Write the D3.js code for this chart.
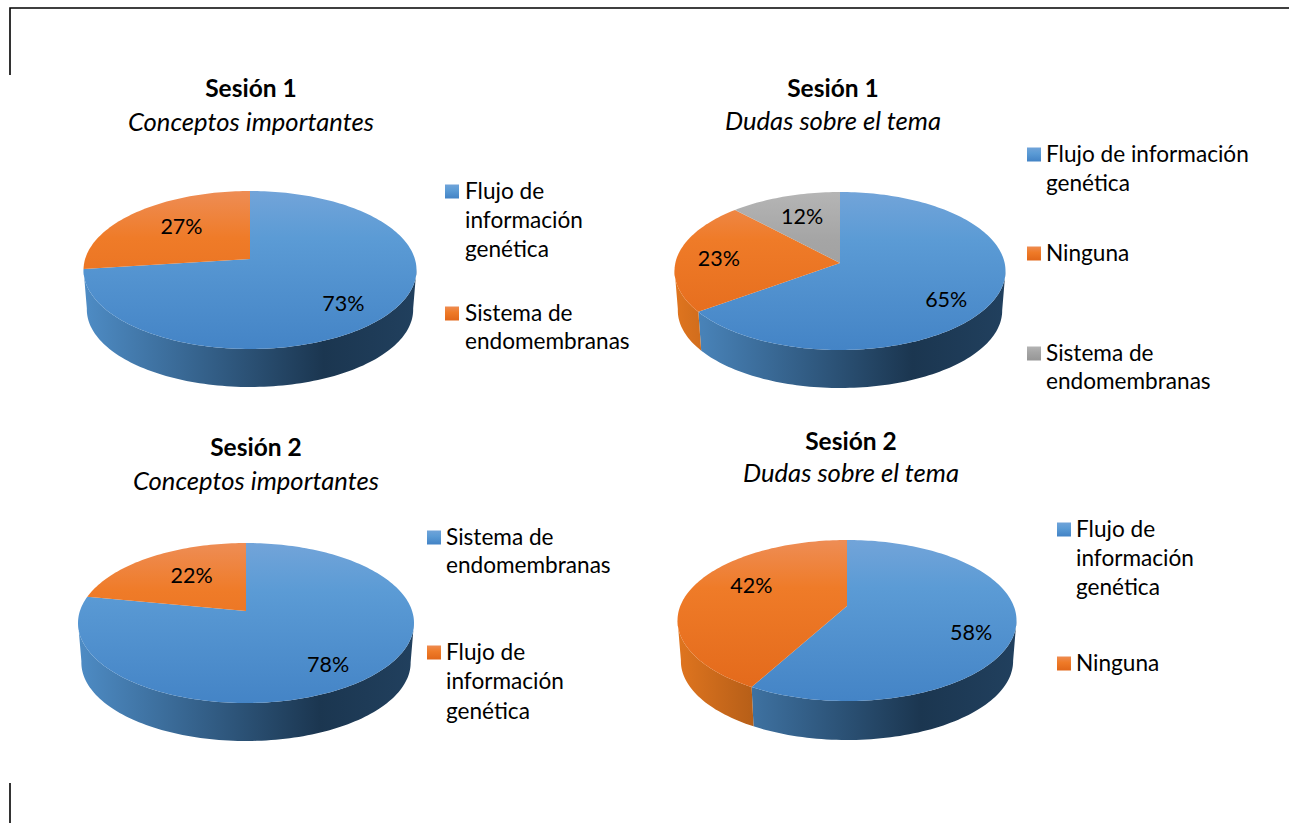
<!DOCTYPE html>
<html>
<head>
<meta charset="utf-8">
<script src="https://cdn.jsdelivr.net/npm/d3@7/dist/d3.min.js"></script>
<style>
html,body{margin:0;padding:0;background:#fff;overflow:hidden}
text{font-family:Lato,"Open Sans",sans-serif;fill:#000}
</style>
</head>
<body>
<svg id="c" width="1289" height="823"></svg>
<script>
// ---- data ----
const session1ConceptsLabels = ["Flujo de información genética", "Sistema de endomembranas"];
const session1ConceptsValues = [73, 27];
const session1DoubtsLabels = ["Flujo de información genética", "Ninguna", "Sistema de endomembranas"];
const session1DoubtsValues = [65, 23, 12];
const session2ConceptsLabels = ["Sistema de endomembranas", "Flujo de información genética"];
const session2ConceptsValues = [78, 22];
const session2DoubtsLabels = ["Flujo de información genética", "Ninguna"];
const session2DoubtsValues = [58, 42];
const titles = ["Sesión 1", "Sesión 1", "Sesión 2", "Sesión 2"];
const subtitles = ["Conceptos importantes", "Dudas sobre el tema", "Conceptos importantes", "Dudas sobre el tema"];

// ---- palette ----
const faceStops = [
  ["#72a4d9", "#5b9bd5", "#4484c6"],
  ["#ee8d55", "#ef7b28", "#e2681a"],
  ["#b5b5b5", "#a5a5a5", "#979797"]
];
const wallStops = [
  ["#4e8cc5", "#1b3650", "#21405e"],
  ["#e0751f", "#5a2d08", "#4a2507"],
  ["#8a8a8a", "#555555", "#444444"]
];

// ---- layout (geometry of each 3D pie, legend and title, not data) ----
const layouts = [
  { cx:250, apex:259, left:84, right:417, top:191, bottom:349, base:387,
    tx:251, ty:[88,122],
    labelNudge:[[-2,5],[15,2]],
    legendSquareX:445, legendTextX:465,
    legendLines:[["Flujo de","información","genética"],["Sistema de","endomembranas"]],
    legendY:[[191,220,249],[313,341]] },
  { cx:840, apex:263, left:674, right:1005, top:192, bottom:350, base:388,
    tx:833, ty:[88,121],
    labelNudge:[[-3,10],[-4,1],[3,2]],
    legendSquareX:1027, legendTextX:1046,
    legendLines:[["Flujo de información","genética"],["Ninguna"],["Sistema de","endomembranas"]],
    legendY:[[154,183],[253],[353,381]] },
  { cx:246, apex:611, left:78, right:414, top:543, bottom:703, base:741,
    tx:256, ty:[447,481],
    labelNudge:[[-1,6],[16,5]],
    legendSquareX:427, legendTextX:446,
    legendLines:[["Sistema de","endomembranas"],["Flujo de","información","genética"]],
    legendY:[[537,565],[652,681,711]] },
  { cx:847, apex:606, left:677, right:1016, top:540, bottom:701, base:740,
    tx:851, ty:[441,473],
    labelNudge:[[4,12],[17,-7]],
    legendSquareX:1057, legendTextX:1076,
    legendLines:[["Flujo de","información","genética"],["Ninguna"]],
    legendY:[[529,558,587],[663]] }
];
const chartValues = [session1ConceptsValues, session1DoubtsValues, session2ConceptsValues, session2DoubtsValues];
const chartLabels = [session1ConceptsLabels, session1DoubtsLabels, session2ConceptsLabels, session2DoubtsLabels];

const svg = d3.select("#c");
const defs = svg.append("defs");
const pie = d3.pie().sort(null).value(d => d).startAngle(0).endAngle(2 * Math.PI);
const line = d3.line();

// frame
const frame = svg.append("g").attr("stroke","#000").attr("stroke-width",1.6).attr("fill","none");
frame.append("path").attr("d", line([[10,75],[10,8],[1289,8]]));
frame.append("path").attr("d", line([[10,783],[10,823]]));

function addGrad(id, x1, y1, x2, y2, stops, offsets) {
  const g = defs.append("linearGradient").attr("id", id)
    .attr("gradientUnits","userSpaceOnUse")
    .attr("x1",x1).attr("y1",y1).attr("x2",x2).attr("y2",y2);
  stops.forEach((s,i) => g.append("stop").attr("offset",offsets[i]).attr("stop-color",s));
}

layouts.forEach((L, ci) => {
  const values = chartValues[ci];
  const g = svg.append("g");
  const far = L.apex - L.top, near = L.bottom - L.apex;
  const k = (far - near) / (far + near);
  const b = far * (1 - k);
  const a = (L.right - L.left) / 2 * Math.sqrt(1 - k * k);
  const project = (theta, r = 1, scale = 1, dy = 0) => {
    const u = r * Math.sin(theta), v = -r * Math.cos(theta), w = 1 + k * v;
    return [L.cx + scale * a * u / w, L.apex + dy + scale * b * v / w];
  };
  const baseScale = 0.98;
  const dy = L.base - L.apex - baseScale * near;
  const widestY = (L.top + L.bottom) / 2;
  const arcs = pie(values);
  const sample = (s) => {
    const n = Math.max(8, Math.ceil((s.endAngle - s.startAngle) * 40));
    return d3.range(n + 1).map(i => s.startAngle + (s.endAngle - s.startAngle) * i / n);
  };

  // gradients
  values.forEach((_, i) => {
    addGrad(`f${ci}_${i}`, 0, L.top, 0, L.bottom, faceStops[i], [0, .3, 1]);
    addGrad(`w${ci}_${i}`, L.left, 0, L.right, 0, wallStops[i], [0, .72, 1]);
  });

  // walls: only the part of the rim in front of the widest line can be seen
  g.selectAll("path.wall").data(arcs).join("path").attr("class","wall")
    .attr("d", s => {
      const t = sample(s).filter(a0 => project(a0)[1] >= widestY - 2);
      if (t.length < 2) return null;
      const pts = t.map(a0 => project(a0)).concat(t.slice().reverse().map(a0 => project(a0, 1, baseScale, dy)));
      return line(pts) + "Z";
    })
    .attr("fill", (s,i) => `url(#w${ci}_${i})`);

  // faces
  g.selectAll("path.face").data(arcs).join("path").attr("class","face")
    .attr("d", s => line([[L.cx, L.apex], ...sample(s).map(a0 => project(a0))]) + "Z")
    .attr("fill", (s,i) => `url(#f${ci}_${i})`);

  // value labels
  g.selectAll("text.val").data(arcs).join("text").attr("class","val")
    .attr("x", (s,i) => project((s.startAngle + s.endAngle) / 2, 0.72)[0] + L.labelNudge[i][0])
    .attr("y", (s,i) => project((s.startAngle + s.endAngle) / 2, 0.72)[1] + L.labelNudge[i][1])
    .attr("text-anchor","middle").attr("dy",".35em")
    .style("font-size","21.5px")
    .text(s => s.data + "%");

  // titles
  g.append("text").attr("x",L.tx).attr("y",L.ty[0]).attr("dy",".35em").attr("text-anchor","middle")
    .style("font-size","24.5px").style("font-weight","700").text(titles[ci]);
  g.append("text").attr("x",L.tx).attr("y",L.ty[1]).attr("dy",".35em").attr("text-anchor","middle")
    .style("font-size","25.6px").style("font-style","italic").text(subtitles[ci]);

  // legend
  chartLabels[ci].forEach((name, i) => {
    addGrad(`l${ci}_${i}`, 0, L.legendY[i][0]-7, 0, L.legendY[i][0]+7, faceStops[i], [0,.45,1]);
    g.append("rect").attr("x",L.legendSquareX).attr("y",L.legendY[i][0]-6.5)
      .attr("width",14).attr("height",14).attr("fill",`url(#l${ci}_${i})`);
    L.legendLines[i].forEach((ln, j) => {
      g.append("text").attr("x",L.legendTextX).attr("y",L.legendY[i][j]).attr("dy",".35em")
        .style("font-size","22.6px").text(ln);
    });
  });
});
</script>
</body>
</html>
